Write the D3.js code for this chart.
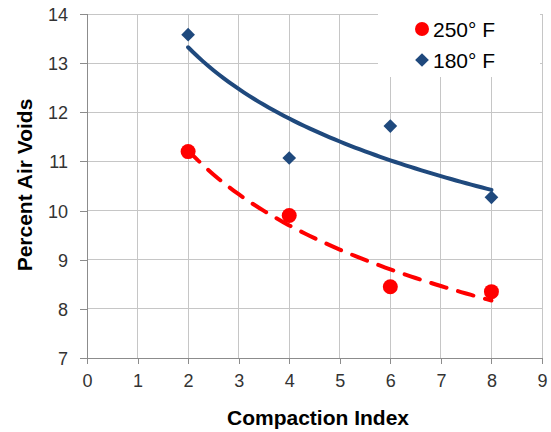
<!DOCTYPE html>
<html>
<head>
<meta charset="utf-8">
<script src="https://cdn.jsdelivr.net/npm/d3@7"></script>
<style>
  html, body { margin: 0; padding: 0; background: #fff; }
  svg { display: block; font-family: "Liberation Sans", Arial, sans-serif; }
</style>
</head>
<body>
<svg id="chart" width="551" height="432"></svg>
<script>
// ---- data ----
const compactionIndex = [2, 4, 6, 8];
const voids250F = [11.2, 9.9, 8.45, 8.35];
const voids180F = [13.58, 11.07, 11.72, 10.27];
const xTicks = [0, 1, 2, 3, 4, 5, 6, 7, 8, 9];
const yTicks = [7, 8, 9, 10, 11, 12, 13, 14];
const seriesNames = ["250° F", "180° F"];

const svg = d3.select("#chart");
const x = d3.scaleLinear().domain([0, 9]).range([87, 542]);
const y = d3.scaleLinear().domain([7, 14]).range([358, 14]);

const gridColor = "#C6C6C6";
const axisColor = "#8C8C8C";
const blue = "#1F497D";
const red = "#FF0000";

// gridlines
const grid = svg.append("g");
grid.selectAll("line.v").data(xTicks.slice(1)).join("line")
  .attr("x1", d => x(d)).attr("x2", d => x(d))
  .attr("y1", y(14)).attr("y2", y(7))
  .attr("stroke", gridColor).attr("stroke-width", 1).attr("shape-rendering", "crispEdges");
grid.selectAll("line.h").data(yTicks.slice(1)).join("line")
  .attr("x1", x(0)).attr("x2", x(9))
  .attr("y1", d => y(d)).attr("y2", d => y(d))
  .attr("stroke", gridColor).attr("stroke-width", 1).attr("shape-rendering", "crispEdges");

// legend background (covers gridlines)
svg.append("rect").attr("x", 378).attr("y", 0).attr("width", 162).attr("height", 77).attr("fill", "#fff");

// axes
const xAxis = d3.axisBottom(x).tickValues(xTicks).tickSize(6).tickPadding(10).tickFormat(d3.format("d"));
const yAxis = d3.axisLeft(y).tickValues(yTicks).tickSize(7).tickPadding(12).tickFormat(d3.format("d"));
const gx = svg.append("g").attr("transform", `translate(0,${y(7)})`).call(xAxis);
const gy = svg.append("g").attr("transform", `translate(${x(0)},0)`).call(yAxis);
[gx, gy].forEach(g => {
  g.select(".domain").attr("stroke", axisColor).attr("shape-rendering", "crispEdges");
  g.selectAll(".tick line").attr("stroke", axisColor).attr("shape-rendering", "crispEdges");
  g.selectAll(".tick text").attr("fill", "#333").style("font-size", "18px")
    .style("font-family", "'Liberation Sans', Arial, sans-serif");
});
gy.selectAll(".tick text").attr("dy", "0.36em");

// axis titles
svg.append("text").attr("x", 318).attr("y", 425).attr("text-anchor", "middle")
  .style("font-size", "21px").style("font-weight", "bold").attr("fill", "#000").text("Compaction Index");
svg.append("text").attr("transform", `translate(32,185) rotate(-90)`).attr("text-anchor", "middle")
  .style("font-size", "21px").style("font-weight", "bold").attr("fill", "#000").text("Percent Air Voids");

// logarithmic trendlines (least squares on ln x)
function logFit(xs, ys) {
  const lx = xs.map(Math.log);
  const mx = d3.mean(lx), my = d3.mean(ys);
  const b = d3.sum(lx, (v, i) => (v - mx) * (ys[i] - my)) / d3.sum(lx, v => (v - mx) ** 2);
  const a = my - b * mx;
  return v => a + b * Math.log(v);
}
const xMin = d3.min(compactionIndex), xMax = d3.max(compactionIndex);
const samples = d3.range(0, 61).map(i => xMin + (xMax - xMin) * i / 60);
const line = d3.line().x(d => x(d[0])).y(d => y(d[1]));

const fBlue = logFit(compactionIndex, voids180F);
svg.append("path").datum(samples.map(v => [v, fBlue(v)]))
  .attr("d", line).attr("fill", "none").attr("stroke", blue).attr("stroke-width", 4)
  .attr("stroke-linecap", "round");

const fRed = logFit(compactionIndex, voids250F);
svg.append("path").datum(samples.map(v => [v, fRed(v)]))
  .attr("d", line).attr("fill", "none").attr("stroke", red).attr("stroke-width", 4)
  .attr("stroke-dasharray", "16,12").attr("stroke-linecap", "round");

// markers
const diamond = d3.symbol().type(d3.symbolDiamond2).size(120);
svg.selectAll("path.d180").data(compactionIndex).join("path")
  .attr("transform", (d, i) => `translate(${x(d)},${y(voids180F[i])})`)
  .attr("d", diamond).attr("fill", blue);
svg.selectAll("circle.d250").data(compactionIndex).join("circle")
  .attr("cx", d => x(d)).attr("cy", (d, i) => y(voids250F[i])).attr("r", 7.5).attr("fill", red);

// legend
const lg = svg.append("g");
lg.append("circle").attr("cx", 422).attr("cy", 29).attr("r", 7).attr("fill", red);
lg.append("path").attr("transform", "translate(422,60)").attr("d", diamond).attr("fill", blue);
lg.append("text").attr("x", 433).attr("y", 37).style("font-size", "21px").attr("fill", "#000").text(seriesNames[0]);
lg.append("text").attr("x", 433).attr("y", 68).style("font-size", "21px").attr("fill", "#000").text(seriesNames[1]);
</script>
</body>
</html>
